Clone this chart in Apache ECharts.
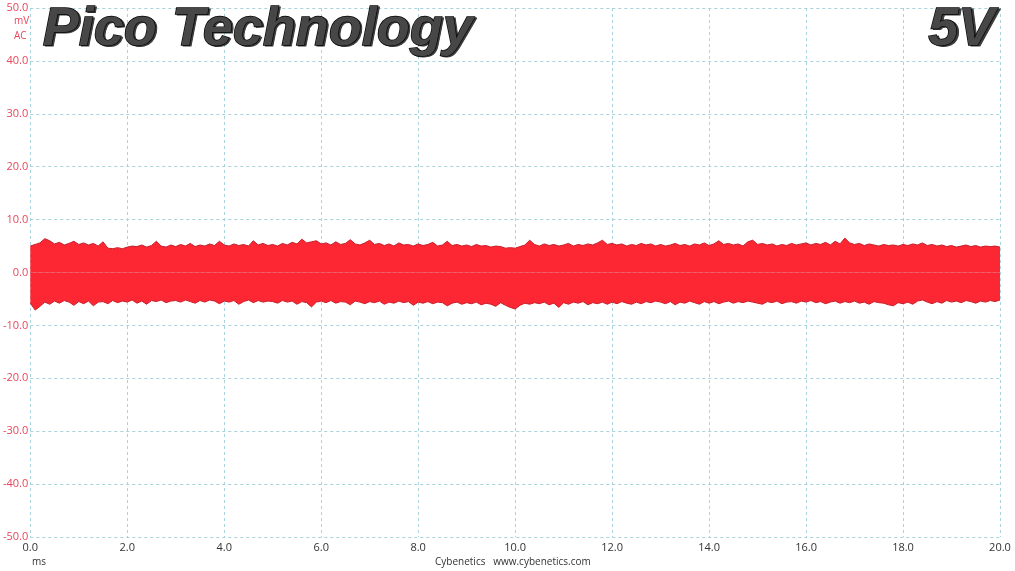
<!DOCTYPE html>
<html>
<head>
<meta charset="utf-8">
<script src="https://cdn.jsdelivr.net/npm/echarts@6/dist/echarts.min.js"></script>
<style>
html,body{margin:0;padding:0;background:#fff;}
#c{width:1015px;height:571px;}
</style>
</head>
<body>
<div id="c"></div>
<script>
// time step of the envelope samples (ms)
const timeStep = 0.1;
const xTicks = ['0.0','2.0','4.0','6.0','8.0','10.0','12.0','14.0','16.0','18.0','20.0'];
const yTicks = ['-50.0','-40.0','-30.0','-20.0','-10.0','0.0','10.0','20.0','30.0','40.0','50.0'];

// upper envelope of the ripple band (mV), one value every 0.1 ms from 0.0 to 20.0
const upperEnvelope = [
  5.0, 5.3, 5.6, 6.4, 6.0, 5.4, 5.7, 5.2, 5.5, 5.9,
  5.3, 5.6, 5.2, 5.5, 5.0, 5.8, 4.6, 4.5, 4.7, 4.5,
  4.8, 5.0, 4.9, 5.2, 4.8, 5.1, 5.9, 5.0, 4.8, 5.2,
  4.9, 5.3, 5.0, 5.5, 4.9, 5.2, 5.0, 5.4, 5.1, 5.9,
  5.2, 5.0, 5.4, 5.1, 5.3, 5.0, 6.0, 5.2, 5.5, 5.1,
  5.3, 5.0, 5.5, 5.2, 5.7, 5.4, 6.3, 5.6, 5.8, 6.0,
  5.4, 5.6, 5.2, 5.8, 5.3, 5.5, 6.2, 5.4, 5.2, 5.6,
  6.1, 5.3, 5.5, 5.1, 5.4, 5.0, 5.6, 5.2, 5.3, 5.0,
  5.4, 5.1, 5.3, 5.7, 5.0, 5.2, 5.9, 5.1, 5.3, 5.0,
  5.2, 4.9, 5.3, 5.0, 5.1, 4.8, 5.0, 4.9, 4.6, 4.7,
  4.6, 4.9, 5.2, 6.1, 5.3, 5.0, 5.4, 5.1, 5.3, 5.0,
  5.2, 5.5, 5.0, 5.3, 5.1, 5.4, 5.2, 5.6, 6.1, 5.3,
  5.5, 5.2, 5.4, 5.0, 5.3, 5.1, 5.5, 5.2, 5.4, 5.0,
  5.3, 5.0, 5.2, 5.5, 5.1, 5.3, 5.0, 5.4, 5.2, 5.6,
  5.1, 5.4, 6.0, 5.3, 5.5, 5.2, 5.4, 5.0, 5.8, 6.1,
  5.3, 5.5, 5.2, 5.4, 5.0, 5.3, 5.1, 5.5, 5.2, 5.4,
  5.6, 5.2, 5.5, 5.3, 5.7, 5.2, 5.9, 5.4, 6.5, 5.6,
  5.3, 5.5, 5.1, 5.4, 5.2, 5.0, 5.3, 5.1, 5.2, 5.0,
  5.3, 5.1, 5.4, 5.2, 5.6, 5.1, 5.3, 5.0, 5.2, 4.9,
  5.1, 4.8, 5.0, 5.2, 4.9, 5.1, 4.8, 5.0, 4.9, 5.0, 4.8
];

// lower envelope of the ripple band (mV), same sampling
const lowerEnvelope = [
  -5.8, -7.1, -6.4, -5.6, -6.0, -5.4, -5.8, -5.3, -5.6, -6.2,
  -5.5, -5.9, -5.4, -6.3, -5.6, -5.5, -5.9, -5.3, -5.7, -5.4,
  -5.6, -5.2, -5.8, -5.4, -6.0, -5.3, -5.5, -5.2, -5.7, -5.4,
  -5.3, -5.6, -5.2, -5.5, -5.8, -5.3, -5.6, -5.2, -5.4, -5.9,
  -5.4, -5.6, -5.3, -6.0, -5.5, -5.2, -5.7, -5.3, -5.6, -5.4,
  -5.5, -5.8, -5.3, -5.6, -5.4, -6.0, -5.5, -5.7, -6.5, -5.6,
  -5.4, -5.7, -5.3, -5.8, -5.5, -5.6, -6.1, -5.4, -5.6, -5.9,
  -5.5, -5.7, -5.4, -6.0, -5.6, -5.8, -5.4, -5.7, -5.5, -6.2,
  -5.6, -5.8, -5.5, -5.9, -5.6, -5.7, -6.3, -5.8, -5.6, -6.0,
  -5.7, -5.9, -5.6, -6.1, -5.8, -6.0, -6.4, -5.7, -6.2, -6.6,
  -6.9, -6.2, -5.8, -6.0, -5.7, -5.9, -5.6, -6.1, -5.8, -6.6,
  -5.7, -6.0, -5.6, -5.8, -5.5, -6.1, -5.7, -5.9, -5.6, -6.0,
  -5.6, -5.9, -5.5, -5.8, -6.0, -5.6, -5.9, -5.5, -5.7, -5.4,
  -5.6, -5.9, -5.5, -6.1, -5.6, -5.8, -5.4, -5.7, -6.0, -5.5,
  -5.8, -5.5, -5.9, -5.6, -5.4, -5.8, -5.5, -5.7, -5.4, -5.6,
  -5.8, -6.0, -5.5, -5.7, -5.4, -5.9, -5.6, -5.5, -5.8, -5.4,
  -5.6, -5.3, -5.7, -5.5, -5.9, -5.6, -5.4, -5.8, -5.5, -5.7,
  -5.4, -5.8, -5.6, -6.0, -5.5, -5.7, -5.8, -6.1, -6.3, -5.7,
  -5.9, -5.6, -6.0, -5.4, -5.2, -5.6, -5.9, -5.5, -5.8, -5.3,
  -5.6, -5.4, -5.7, -5.3, -5.5, -5.8, -5.4, -5.6, -5.3, -5.5, -5.2
];

const titleText = 'Pico Technology';
const railText = '5V';

const upperData = upperEnvelope.map((v, i) => [+(i * timeStep).toFixed(1), v]);
const lowerData = lowerEnvelope.map((v, i) => [+(i * timeStep).toFixed(1), v]);

const chart = echarts.init(document.getElementById('c'), null, {renderer: 'canvas'});
const fillColor = '#FC2733';
const edgeColor = '#C81E2A';
const gridLine = {show: true, lineStyle: {color: '#A8D2DE', type: [3, 3], width: 1}};
const titleFont = 'italic bold 54px "Liberation Sans", Arial, sans-serif';

function titleLayers(text, pos) {
  return [
    Object.assign({type: 'text', z: 10,
      style: {text: text, font: titleFont, fill: '#3a3a3a', stroke: '#3a3a3a', lineWidth: 1}}, pos.shadow),
    Object.assign({type: 'text', z: 11,
      style: {text: text, font: titleFont, fill: '#474747', stroke: '#050505', lineWidth: 1.4}}, pos.main)
  ];
}

chart.setOption({
  animation: false,
  backgroundColor: '#ffffff',
  grid: {left: 30, right: 15, top: 8, bottom: 34, containLabel: false},
  xAxis: {
    type: 'value', min: 0, max: 20, interval: 2,
    axisLine: {show: false}, axisTick: {show: false},
    axisLabel: {color: '#333', fontSize: 11, fontFamily: 'Open Sans', margin: 5,
      formatter: (v) => xTicks[Math.round(v / 2)]},
    splitLine: gridLine
  },
  yAxis: {
    type: 'value', min: -50, max: 50, interval: 10,
    axisLine: {show: false}, axisTick: {show: false},
    axisLabel: {color: '#E8455A', fontSize: 11, fontFamily: 'Open Sans', margin: 2,
      formatter: (v) => yTicks[Math.round((v + 50) / 10)]},
    splitLine: gridLine
  },
  series: [
    {
      type: 'line', data: upperData, showSymbol: false, symbol: 'none',
      lineStyle: {color: edgeColor, width: 1},
      areaStyle: {color: fillColor, opacity: 1, origin: 0},
      z: 3
    },
    {
      type: 'line', data: lowerData, showSymbol: false, symbol: 'none',
      lineStyle: {color: edgeColor, width: 1},
      areaStyle: {color: fillColor, opacity: 1, origin: 0},
      z: 3
    }
  ],
  graphic: [].concat(
    titleLayers(titleText, {shadow: {left: 44, top: 4}, main: {left: 42, top: 2}}),
    titleLayers(railText, {shadow: {right: 18, top: 4}, main: {right: 20, top: 2}}),
    [
      {type: 'text', left: 14, top: 16, style: {text: 'mV', fill: '#E8455A', font: '10px "Open Sans", sans-serif'}},
      {type: 'text', left: 14, top: 31, style: {text: 'AC', fill: '#E8455A', font: '10px "Open Sans", sans-serif'}},
      {type: 'text', left: 32, top: 557, style: {text: 'ms', fill: '#333', font: '10px "Open Sans", sans-serif'}},
      {type: 'text', left: 435, top: 557, style: {text: 'Cybenetics   www.cybenetics.com', fill: '#333', font: '10px "Open Sans", sans-serif'}}
    ]
  )
});
</script>
</body>
</html>
